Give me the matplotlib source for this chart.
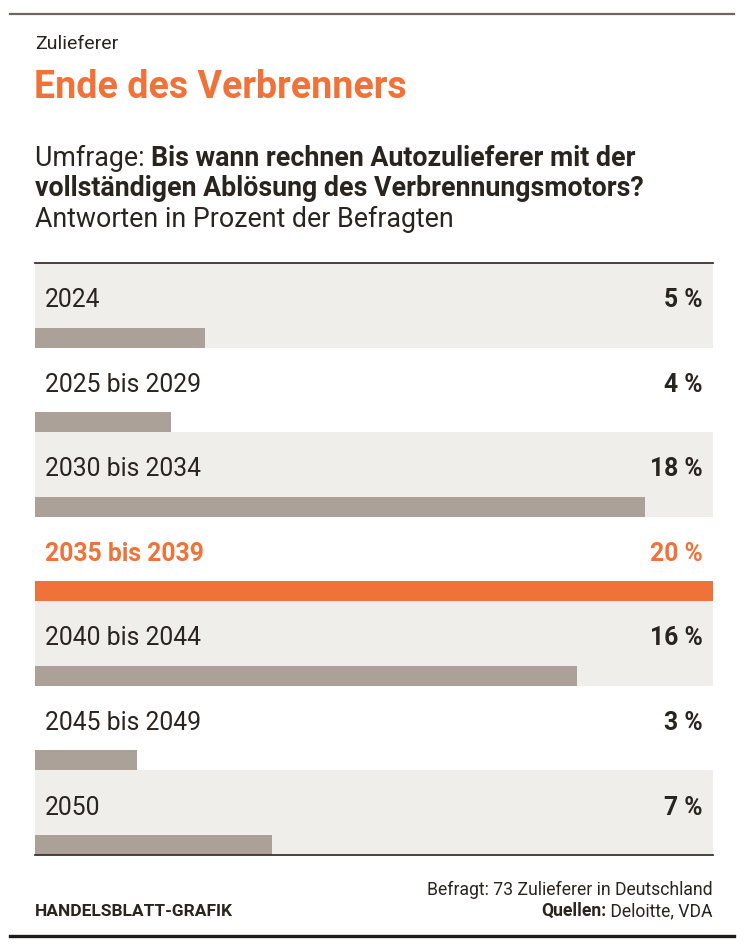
import matplotlib
matplotlib.use("Agg")
import matplotlib.pyplot as plt
from matplotlib.lines import Line2D

plt.rcParams["font.family"] = ["Roboto", "DejaVu Sans"]

# data
categories = ["2024", "2025 bis 2029", "2030 bis 2034", "2035 bis 2039",
              "2040 bis 2044", "2045 bis 2049", "2050"]
values = [5, 4, 18, 20, 16, 3, 7]
highlight = "2035 bis 2039"

ORANGE = "#f07238"
BAR = "#aca198"
ROWBG = "#f0eeea"
TEXT = "#2a241f"

W, H = 744, 949
fig = plt.figure(figsize=(W / 100, H / 100), dpi=100)
fig.patch.set_facecolor("white")


def fy(y):
    # pixel y from top -> figure fraction
    return 1 - y / H


def fx(x):
    return x / W


# top and bottom rules
fig.add_artist(Line2D([fx(10), fx(734)], [fy(14), fy(14)], color="#6e665f", lw=1.6))
fig.add_artist(Line2D([fx(10), fx(734)], [fy(936), fy(936)], color="#1e1a17", lw=2.4))

# header
fig.text(fx(35), fy(44), "Zulieferer", fontsize=14, color=TEXT, va="center")
fig.text(fx(34), fy(88), "Ende des Verbrenners", fontsize=27, color=ORANGE,
         fontweight="bold", va="center")

fig.canvas.draw()
renderer = fig.canvas.get_renderer()

SUB = 19.3
t1 = fig.text(fx(35), fy(158), "Umfrage: ", fontsize=SUB, color=TEXT, va="center")
bb = t1.get_window_extent(renderer)
fig.text(fx(35) + bb.width / W, fy(158), "Bis wann rechnen Autozulieferer mit der",
         fontsize=SUB, color=TEXT, fontweight="bold", va="center")
fig.text(fx(35), fy(188), "vollständigen Ablösung des Verbrennungsmotors?",
         fontsize=SUB, color=TEXT, fontweight="bold", va="center")
fig.text(fx(35), fy(219), "Antworten in Prozent der Befragten", fontsize=SUB,
         color=TEXT, va="center")

# chart area
top, bottom, left, right = 263, 855, 35, 713
ax = fig.add_axes([fx(left), fy(bottom), (right - left) / W, (bottom - top) / H])
ax.set_xlim(0, max(values))
ax.set_ylim(len(categories), 0)
ax.axis("off")

bar_h = 20 / ((bottom - top) / len(categories))
for i, (cat, v) in enumerate(zip(categories, values)):
    if i % 2 == 0:
        ax.axhspan(i, i + 1, color=ROWBG, zorder=0, lw=0)
    hl = cat == highlight
    ax.barh(i + 1 - bar_h / 2, v, height=bar_h, color=ORANGE if hl else BAR,
            zorder=2, lw=0)
    col = ORANGE if hl else TEXT
    ax.text(10 / (right - left), i + 0.44, cat, transform=ax.get_yaxis_transform(),
            fontsize=17.8, color=col, va="center", ha="left",
            fontweight="bold" if hl else "normal")
    ax.text(1 - 10 / (right - left), i + 0.44, f"{v} %",
            transform=ax.get_yaxis_transform(), fontsize=17.8, color=col,
            va="center", ha="right", fontweight="bold")

fig.add_artist(Line2D([fx(left), fx(right)], [fy(263), fy(263)], color="#3a332d", lw=1.3))
fig.add_artist(Line2D([fx(left), fx(right)], [fy(855), fy(855)], color="#3a332d", lw=1.3))

# footer
FOOT = 12.7
fig.text(fx(35), fy(911), "HANDELSBLATT-GRAFIK", fontsize=12.5, color=TEXT,
         fontweight="bold", va="center")
fig.text(fx(713), fy(890), "Befragt: 73 Zulieferer in Deutschland", fontsize=FOOT,
         color=TEXT, va="center", ha="right")
t2 = fig.text(fx(713), fy(911), " Deloitte, VDA", fontsize=FOOT, color=TEXT,
              va="center", ha="right")
bb2 = t2.get_window_extent(renderer)
fig.text(fx(713) - bb2.width / W, fy(911), "Quellen:", fontsize=FOOT, color=TEXT,
         fontweight="bold", va="center", ha="right")

fig.savefig("out.png", dpi=100)
